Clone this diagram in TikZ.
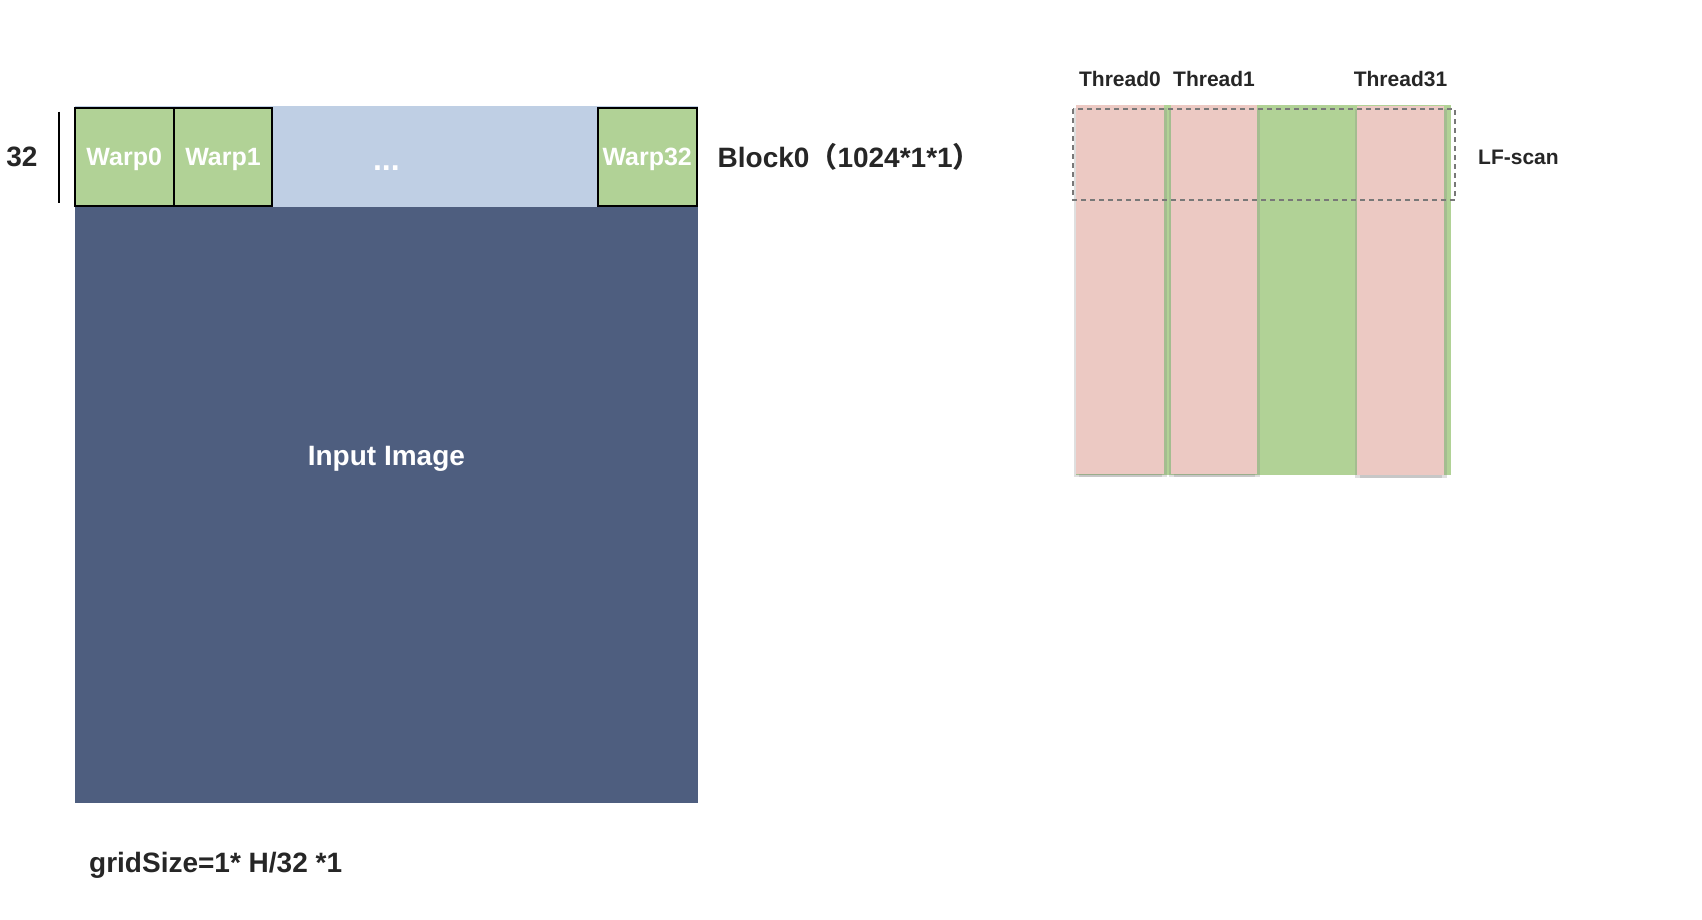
\documentclass[tikz,border=0pt]{standalone}
\usepackage{fontspec}
\setmainfont{Liberation Sans}
\newfontfamily\cjk{Noto Sans CJK SC}
\usepackage{xcolor}
\usepackage{tikz}
\usetikzlibrary{positioning,shadows}

\definecolor{lightblue}{RGB}{191,207,228}
\definecolor{darkblue}{RGB}{78,94,127}
\definecolor{warpgreen}{RGB}{177,210,150}
\definecolor{threadpink}{RGB}{236,201,195}
\definecolor{textgray}{RGB}{38,38,38}
\definecolor{dashgray}{RGB}{120,120,120}

\begin{document}
\begin{tikzpicture}[x=1pt,y=-1pt,
    warp/.style={draw=black, line width=2pt, fill=warpgreen, minimum width=98.8pt, minimum height=98.5pt,
        inner sep=0pt, outer sep=0pt, text depth=0pt, text=white, font=\fontsize{25}{25}\selectfont\bfseries},
    thread/.style={fill=threadpink, minimum height=369pt, inner sep=0pt, outer sep=0pt, anchor=north west,
        drop shadow={opacity=0.25, shadow xshift=-2.5pt, shadow yshift=-3pt},
        drop shadow={opacity=0.25, shadow xshift=2.5pt, shadow yshift=-3pt}},
    tlabel/.style={text=textgray, font=\fontsize{21}{21}\selectfont\bfseries, inner sep=0pt},
    biglabel/.style={text=textgray, font=\fontsize{28}{28}\selectfont\bfseries, inner sep=0pt}]
\useasboundingbox (0,0) rectangle (1702,920);

% input image with the block on top
\fill[lightblue] (74.9,106.4) rectangle (698,207);
\fill[darkblue] (74.9,207) rectangle (698,803.3);
\node[text=white, font=\fontsize{28}{28}\selectfont\bfseries] (img) at (386.4,459) {Input Image};
\node[text=white, text depth=0pt, font=\fontsize{32}{32}\selectfont\bfseries] (dots) at (386.4,168) {...};

\node[warp, anchor=north west] (warp0) at (74.8,107.7) {Warp0};
\node[warp, right=0pt of warp0] (warp1) {Warp1};
\node[warp, anchor=north west] (warp32) at (597.8,107.7) {Warp32};

\draw[line width=2pt] (58.7,111.7) -- (58.7,202.7);
\node[biglabel] (rows) at (22,157) {32};
\node[biglabel, anchor=west] (block) at (717.5,157) {Block0{\cjk （}1024*1*1{\cjk ）}};
\node[biglabel, anchor=west] (grid) at (89,865) {gridSize=1* H/32 *1};

% threads of one warp
\fill[warpgreen] (1076,105) rectangle (1451,475);
\node[thread, minimum width=88pt] (col0) at (1076,105) {};
\node[thread, minimum width=86pt] (col1) at (1171,105) {};
\node[thread, minimum width=87pt] (col31) at (1357,106) {};
\node[tlabel, above=18pt of col0] (t0) {Thread0};
\node[tlabel, above=18pt of col1] (t1) {Thread1};
\node[tlabel, above=19pt of col31] (t31) {Thread31};

\draw[dashgray, line width=2.3pt, dash pattern=on 5pt off 4pt] (1073,109) rectangle (1455,200);
\node[tlabel, anchor=west] (scan) at (1478,157) {LF-scan};
\end{tikzpicture}
\end{document}
